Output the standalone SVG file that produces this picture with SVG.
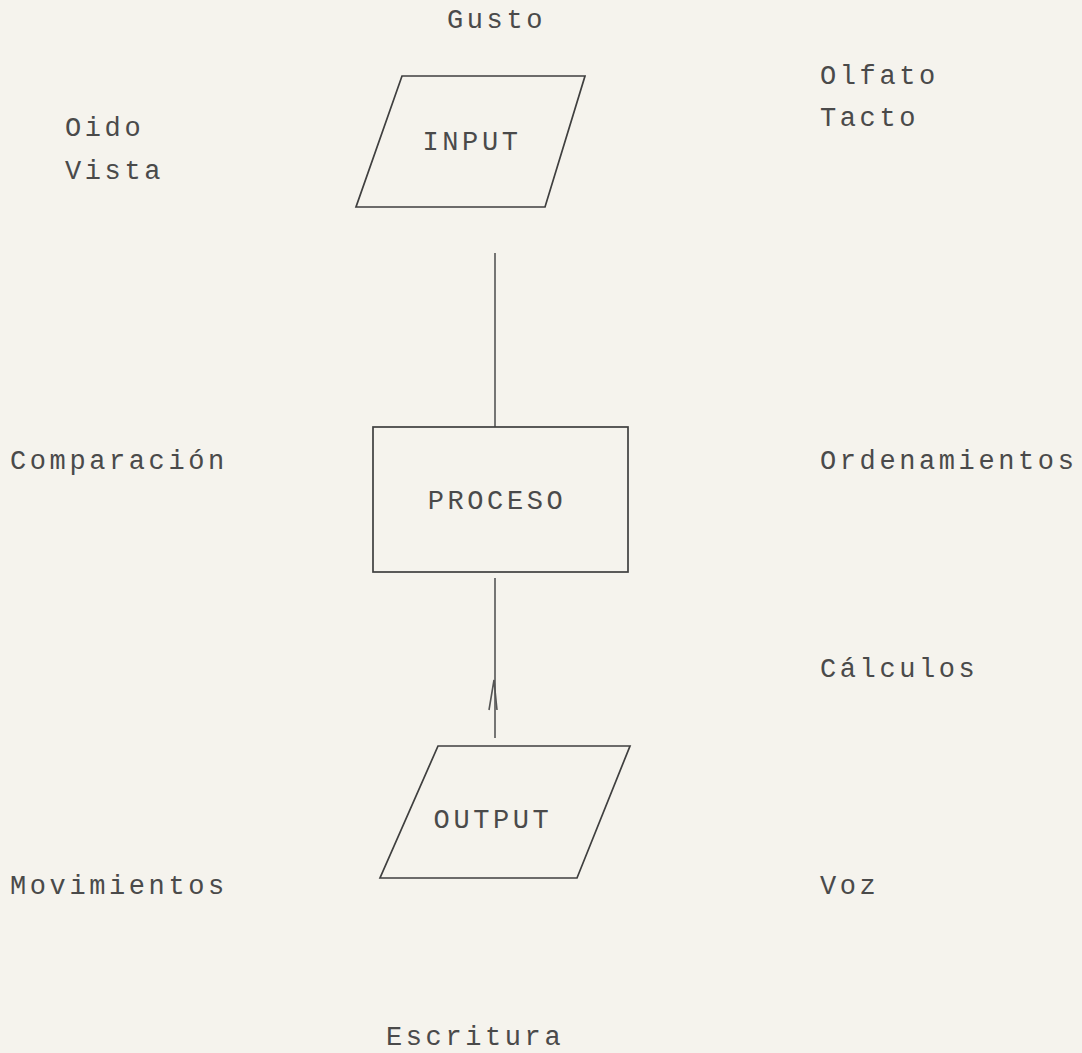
<svg xmlns="http://www.w3.org/2000/svg" width="1082" height="1053" viewBox="0 0 1082 1053">
<style>
.t{font-family:"Liberation Mono","DejaVu Sans Mono",monospace;font-size:27px;letter-spacing:3.6px;fill:#4a4a4a}
.c{text-anchor:middle}
.s{fill:none;stroke:#3f3f3f;stroke-width:1.7;stroke-linejoin:miter}
.l{fill:none;stroke:#555;stroke-width:1.6}
</style>
<rect x="0" y="0" width="1082" height="1053" fill="#f5f3ed"/>
<g id="labels">
<text class="t" x="447" y="28">Gusto</text>
<text class="t" x="820" y="84">Olfato</text>
<text class="t" x="820" y="126">Tacto</text>
<text class="t" x="65" y="136">Oido</text>
<text class="t" x="65" y="179">Vista</text>
<text class="t" x="10" y="469">Comparación</text>
<text class="t" x="820" y="469">Ordenamientos</text>
<text class="t" x="820" y="677">Cálculos</text>
<text class="t" x="10" y="894">Movimientos</text>
<text class="t" x="820" y="894">Voz</text>
<text class="t" x="386" y="1045">Escritura</text>
</g>
<g id="connectors">
<line class="l" x1="495" y1="253" x2="495" y2="427"/>
<line class="l" x1="495" y1="578" x2="495" y2="738"/>
<path class="l" d="M489,710 L494,680 L497,710"/>
</g>
<g id="input">
<polygon class="s" points="402,76 585,76 545,207 356,207"/>
<text class="t c" x="472" y="150" fill="#333">INPUT</text>
</g>
<g id="proceso">
<rect class="s" x="373" y="427" width="255" height="145"/>
<text class="t c" x="497" y="509">PROCESO</text>
</g>
<g id="output">
<polygon class="s" points="438,746 630,746 577,878 380,878"/>
<text class="t c" x="493" y="828">OUTPUT</text>
</g>
</svg>
